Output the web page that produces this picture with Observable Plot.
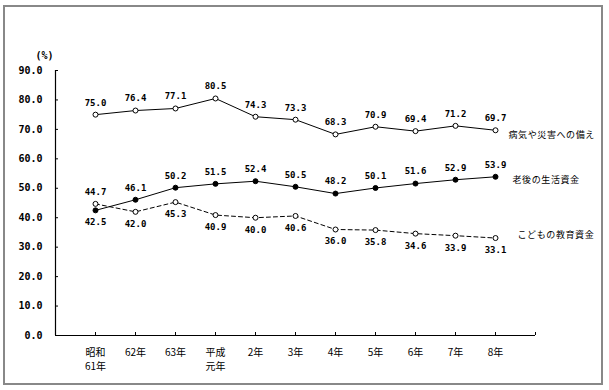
<!DOCTYPE html>
<html><head><meta charset="utf-8">
<script src="https://cdn.jsdelivr.net/npm/d3@7"></script>
<script src="https://cdn.jsdelivr.net/npm/@observablehq/plot@0.6"></script>
<style>
body{margin:0;background:#fff;}
#wrap{position:relative;width:609px;height:390px;}
#border{position:absolute;left:3px;top:5px;width:596px;height:376px;border:2px solid #888;pointer-events:none;}
</style></head><body>
<div id="wrap"><div id="chart"></div><div id="border"></div></div>
<script>
const categories = ["昭和\n61年","62年","63年","平成\n元年","2年","3年","4年","5年","6年","7年","8年"];
const illness    = [75.0,76.4,77.1,80.5,74.3,73.3,68.3,70.9,69.4,71.2,69.7];
const retirement = [42.5,46.1,50.2,51.5,52.4,50.5,48.2,50.1,51.6,52.9,53.9];
const education  = [44.7,42.0,45.3,40.9,40.0,40.6,36.0,35.8,34.6,33.9,33.1];
const seriesNames = ["病気や災害への備え","老後の生活資金","こどもの教育資金"];
const yTicks = [0,10,20,30,40,50,60,70,80,90];
const yUnit = "(%)";

const idx = categories.map((_, i) => i);
const rows = (vals, name, other, defAbove) => vals.map((v, i) => ({
  i, v, name,
  above: other ? v >= other[i] : defAbove
}));
const ill = rows(illness, seriesNames[0], null, true);
const ret = rows(retirement, seriesNames[1], education, true);
const edu = rows(education, seriesNames[2], retirement, false);
const all = [...ill, ...ret, ...edu];
const last = categories.length - 1;

const numFont = "DejaVu Sans Mono";
const jpFont = "Noto Sans CJK JP";

const chart = Plot.plot({
  width: 609, height: 390,
  marginLeft: 55, marginRight: 74, marginTop: 70, marginBottom: 55,
  x: {type: "linear", domain: [-1, categories.length]},
  y: {domain: [0, 90]},
  style: {fontFamily: jpFont, background: "white", color: "black"},
  marks: [
    Plot.ruleY([0], {stroke: "black", strokeWidth: 1.2}),
    Plot.ruleX([-1], {stroke: "black", strokeWidth: 1.2}),
    Plot.ruleY(yTicks, {stroke: "black", insetRight: 477}),
    Plot.ruleX([...idx, categories.length], {stroke: "black", insetTop: 262}),
    Plot.axisY(yTicks, {tickFormat: d => d.toFixed(1), tickSize: 0, tickPadding: 13,
      fontSize: 10, fontFamily: numFont, fontWeight: "bold", label: null}),
    Plot.axisX(idx, {tickFormat: i => categories[i], tickSize: 0, tickPadding: 11,
      fontSize: 10, lineHeight: 1.4, fontFamily: jpFont, label: null}),
    Plot.text([yUnit], {frameAnchor: "top-left", text: d => d, dx: -20, dy: -19,
      fontSize: 10, fontFamily: numFont, fontWeight: "bold"}),
    Plot.line(ill, {x: "i", y: "v", stroke: "black", strokeWidth: 1}),
    Plot.line(ret, {x: "i", y: "v", stroke: "black", strokeWidth: 1}),
    Plot.line(edu, {x: "i", y: "v", stroke: "black", strokeWidth: 1, strokeDasharray: "4,3"}),
    Plot.dot(ill, {x: "i", y: "v", r: 2.5, fill: "white", stroke: "black", strokeWidth: 1}),
    Plot.dot(ret, {x: "i", y: "v", r: 2.5, fill: "black", stroke: "black", strokeWidth: 1}),
    Plot.dot(edu, {x: "i", y: "v", r: 2.5, fill: "white", stroke: "black", strokeWidth: 1}),
    Plot.text(all.filter(d => d.above), {x: "i", y: "v", text: d => d.v.toFixed(1), dy: -12,
      fontSize: 9, fontFamily: numFont, fontWeight: "bold"}),
    Plot.text(all.filter(d => !d.above), {x: "i", y: "v", text: d => d.v.toFixed(1), dy: 12,
      fontSize: 9, fontFamily: numFont, fontWeight: "bold"}),
    Plot.text([ill[last]], {x: "i", y: "v", text: "name", textAnchor: "start", dx: 13, dy: 5,
      fontSize: 9, fontFamily: jpFont}),
    Plot.text([ret[last]], {x: "i", y: "v", text: "name", textAnchor: "start", dx: 17, dy: 3,
      fontSize: 9, fontFamily: jpFont}),
    Plot.text([edu[last]], {x: "i", y: "v", text: "name", textAnchor: "start", dx: 22, dy: -3,
      fontSize: 9, fontFamily: jpFont})
  ]
});
document.getElementById("chart").appendChild(chart);
chart.querySelectorAll("text").forEach(t => {
  if (seriesNames.includes(t.textContent)) t.style.letterSpacing = "0.6px";
});
</script>
</body></html>
